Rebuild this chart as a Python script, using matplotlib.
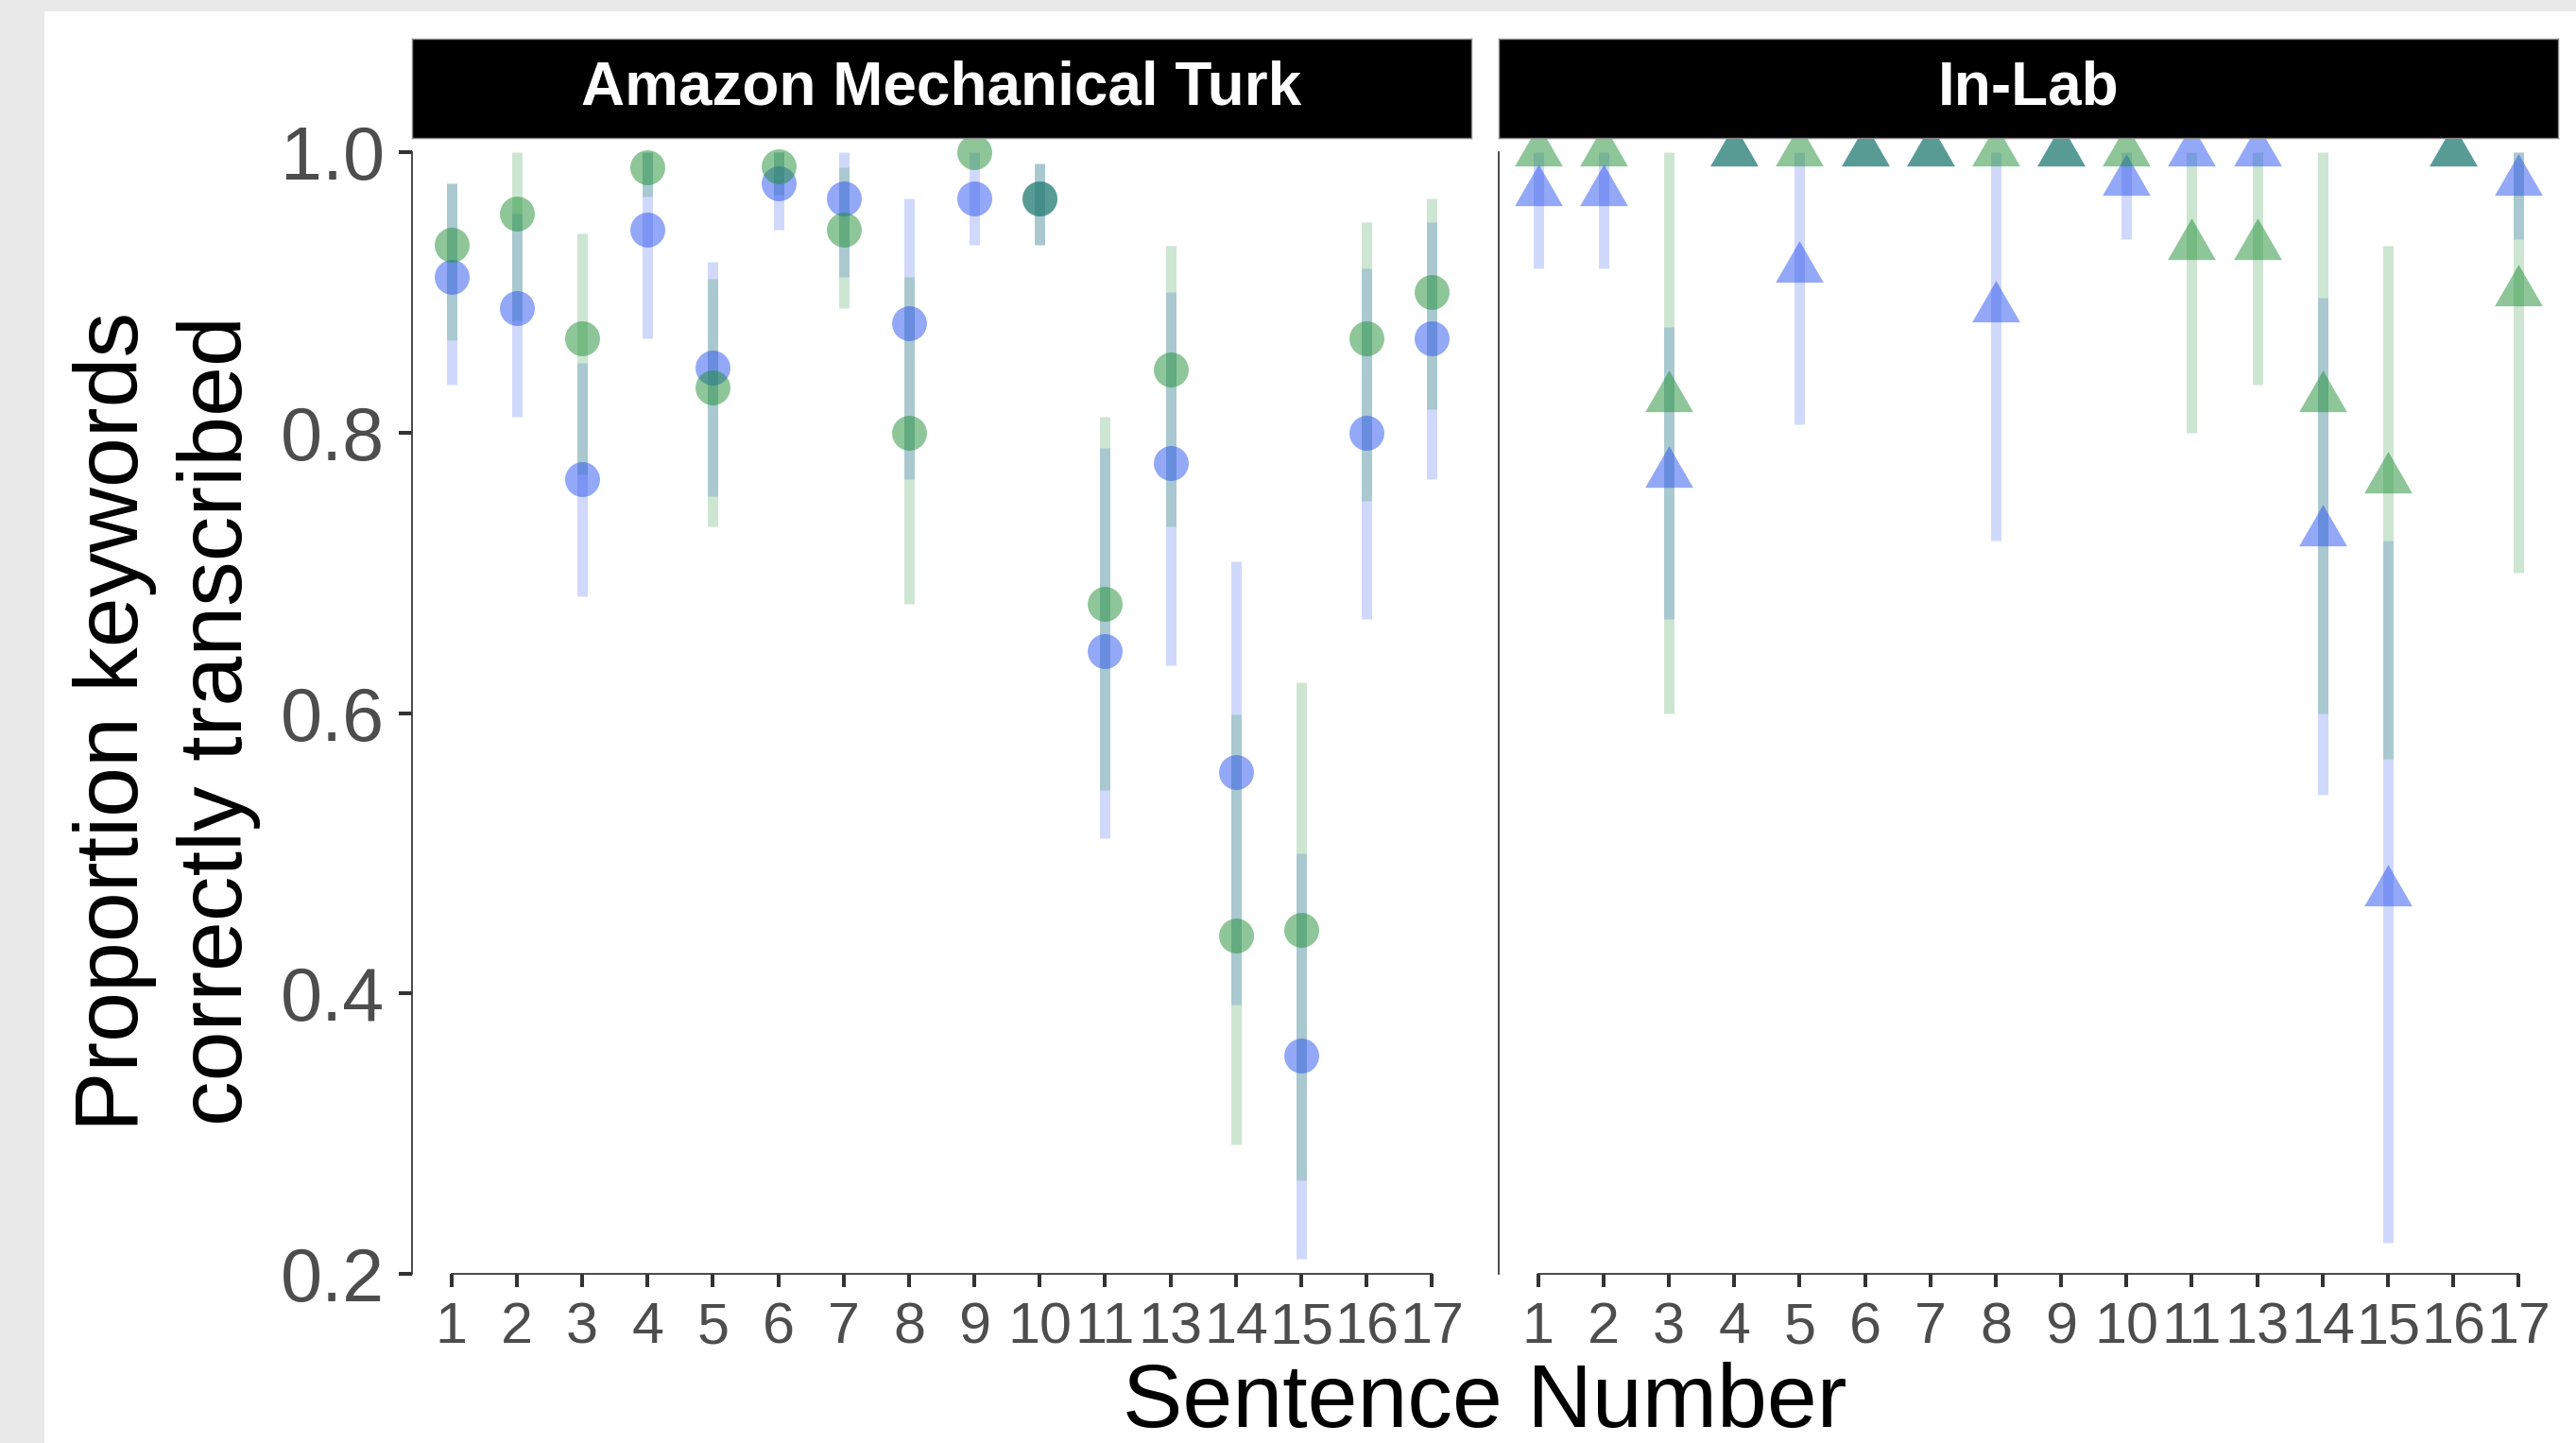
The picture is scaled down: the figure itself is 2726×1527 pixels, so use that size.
import matplotlib
matplotlib.use("Agg")
import matplotlib.pyplot as plt
from matplotlib.patches import Rectangle
from matplotlib.path import Path
import numpy as np

plt.rcParams["font.family"] = ["Liberation Sans", "DejaVu Sans"]

# sentence labels (12 is absent)
sentences = ["1", "2", "3", "4", "5", "6", "7", "8", "9", "10",
             "11", "13", "14", "15", "16", "17"]

# Amazon Mechanical Turk
amt_blue = [0.911, 0.889, 0.767, 0.945, 0.846, 0.978, 0.967, 0.878,
            0.967, 0.967, 0.644, 0.778, 0.558, 0.356, 0.800, 0.867]
amt_blue_lo = [0.834, 0.811, 0.683, 0.867, 0.755, 0.945, 0.911, 0.767,
               0.934, 0.934, 0.511, 0.634, 0.392, 0.211, 0.667, 0.767]
amt_blue_hi = [0.978, 0.956, 0.850, 1.000, 0.922, 1.000, 1.000, 0.967,
               1.000, 0.992, 0.789, 0.900, 0.708, 0.500, 0.917, 0.950]

amt_green = [0.934, 0.956, 0.867, 0.989, 0.832, 0.990, 0.945, 0.800,
             1.000, 0.967, 0.678, 0.845, 0.441, 0.445, 0.867, 0.900]
amt_green_lo = [0.866, 0.880, 0.770, 0.968, 0.733, 0.970, 0.889, 0.678,
                1.000, 0.934, 0.545, 0.733, 0.292, 0.267, 0.751, 0.817]
amt_green_hi = [0.978, 1.000, 0.942, 1.000, 0.910, 1.000, 0.989, 0.911,
                1.000, 0.992, 0.811, 0.933, 0.599, 0.622, 0.950, 0.967]

# In-Lab
lab_blue = [0.972, 0.972, 0.771, 1.000, 0.917, 1.000, 1.000, 0.889,
            1.000, 0.979, 1.000, 1.000, 0.729, 0.472, 1.000, 0.979]
lab_blue_lo = [0.917, 0.917, 0.667, 1.000, 0.806, 1.000, 1.000, 0.723,
               1.000, 0.938, 1.000, 1.000, 0.542, 0.222, 1.000, 0.938]
lab_blue_hi = [1.000, 1.000, 0.875, 1.000, 1.000, 1.000, 1.000, 1.000,
               1.000, 1.000, 1.000, 1.000, 0.896, 0.723, 1.000, 1.000]

lab_green = [1.000, 1.000, 0.825, 1.000, 1.000, 1.000, 1.000, 1.000,
             1.000, 1.000, 0.933, 0.933, 0.825, 0.767, 1.000, 0.900]
lab_green_lo = [1.000, 1.000, 0.600, 1.000, 1.000, 1.000, 1.000, 1.000,
                1.000, 1.000, 0.800, 0.834, 0.600, 0.567, 1.000, 0.700]
lab_green_hi = [1.000, 1.000, 1.000, 1.000, 1.000, 1.000, 1.000, 1.000,
                1.000, 1.000, 1.000, 1.000, 1.000, 0.933, 1.000, 1.000]

yticks = [0.2, 0.4, 0.6, 0.8, 1.0]

BLUE = "#2953ef"
GREEN = "#1f8f35"

W, H = 2726, 1527


def fx(px):
    return px / W


def fy(py):
    return 1 - py / H


# triangle with its centroid at the data point (like R's pch 17)
tri = Path([(0, 1), (-0.866, -0.5), (0.866, -0.5), (0, 1)],
           [Path.MOVETO, Path.LINETO, Path.LINETO, Path.CLOSEPOLY])

fig = plt.figure(figsize=(W / 100, H / 100), dpi=100)
fig.patch.set_facecolor("#e9e9e9")
fig.add_artist(Rectangle((fx(47), 0), 1, fy(12), transform=fig.transFigure,
                         facecolor="white", edgecolor="none", zorder=-10))

panels = [
    ("Amazon Mechanical Turk", 436, 1557, "o", 26.6,
     amt_blue, amt_blue_lo, amt_blue_hi, amt_green, amt_green_lo, amt_green_hi),
    ("In-Lab", 1586, 2707, tri, 42.2,
     lab_blue, lab_blue_lo, lab_blue_hi, lab_green, lab_green_lo, lab_green_hi),
]

top, bottom, strip_top = 146, 1348, 41
x = np.arange(1, len(sentences) + 1)

for i, (title, x0, x1, marker, ms, b, blo, bhi, g, glo, ghi) in enumerate(panels):
    ax = fig.add_axes([fx(x0), fy(bottom), (x1 - x0) / W, (bottom - top) / H])
    ax.set_facecolor("none")

    ax.vlines(x, blo, bhi, colors=BLUE, alpha=0.22, linewidth=7.9)
    ax.vlines(x, glo, ghi, colors=GREEN, alpha=0.22, linewidth=7.9)
    ax.plot(x, b, linestyle="none", marker=marker, markersize=ms,
            color=BLUE, alpha=0.5, markeredgewidth=0)
    ax.plot(x, g, linestyle="none", marker=marker, markersize=ms,
            color=GREEN, alpha=0.5, markeredgewidth=0)

    ax.set_xlim(0.4, len(sentences) + 0.6)
    ax.set_ylim(0.2, 1.0 + 15 / 1483.75)
    ax.set_xticks(x)
    ax.set_xticklabels(sentences)
    ax.set_yticks(yticks)
    ax.set_yticklabels([f"{v:.1f}" for v in yticks])

    for s in ["top", "right"]:
        ax.spines[s].set_visible(False)
    ax.spines["bottom"].set_bounds(1, len(sentences))
    ax.spines["bottom"].set_color("#3a3a3a")
    ax.spines["bottom"].set_linewidth(1.3)
    ax.spines["left"].set_color("#3a3a3a")
    ax.spines["left"].set_linewidth(1.3)
    ax.spines["left"].set_bounds(0.2, 1.0)

    ax.tick_params(axis="x", length=10, width=2.9, color="#333333",
                   labelsize=44, labelcolor="#4d4d4d", pad=11)
    if i == 0:
        ax.tick_params(axis="y", length=10, width=2.9, color="#333333",
                       labelsize=57, labelcolor="#4d4d4d", pad=11)
    else:
        ax.tick_params(axis="y", length=0, labelleft=False)

    # facet strip
    sax = fig.add_axes([fx(x0), fy(top), (x1 - x0) / W, (top - strip_top) / H])
    sax.set_facecolor("black")
    sax.set_xticks([])
    sax.set_yticks([])
    for s in sax.spines.values():
        s.set_color("#8a8a8a")
        s.set_linewidth(1.0)
    sax.text(0.5, 0.5, title, transform=sax.transAxes, ha="center",
             va="center", color="white", fontsize=46, fontweight="bold")

fig.text(fx(1571), fy(1510), "Sentence Number", ha="center", va="baseline",
         fontsize=68.5, color="black")
fig.text(fx(146), fy(763), "Proportion keywords", rotation=90,
         rotation_mode="anchor", ha="center", va="baseline",
         fontsize=68.5, color="black")
fig.text(fx(256), fy(763), "correctly transcribed", rotation=90,
         rotation_mode="anchor", ha="center", va="baseline",
         fontsize=68.5, color="black")

fig.savefig("out.png", dpi=100, facecolor=fig.get_facecolor())
